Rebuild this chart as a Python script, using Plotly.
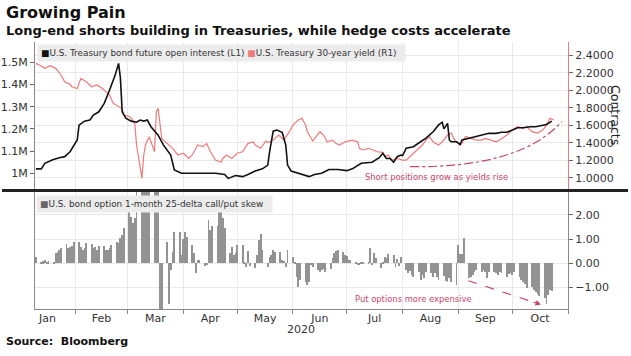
import pandas as pd
import plotly.graph_objects as go

# ---------------- data ----------------
oi_dates = ["2020-01-10","2020-01-13","2020-01-15","2020-01-19","2020-01-23","2020-01-26","2020-01-29","2020-01-31",
            "2020-02-02","2020-02-03","2020-02-06","2020-02-09","2020-02-11","2020-02-14","2020-02-17","2020-02-20",
            "2020-02-23","2020-02-25","2020-02-26","2020-02-27","2020-02-29","2020-03-03","2020-03-06","2020-03-08",
            "2020-03-10","2020-03-12","2020-03-14","2020-03-18","2020-03-21","2020-03-25","2020-03-27","2020-03-31",
            "2020-04-05","2020-04-12","2020-04-18","2020-04-19","2020-04-24","2020-04-26","2020-04-30","2020-05-04",
            "2020-05-07","2020-05-11","2020-05-15","2020-05-18","2020-05-19","2020-05-21","2020-05-23","2020-05-26",
            "2020-05-28","2020-05-29","2020-05-31","2020-06-04","2020-06-08","2020-06-10","2020-06-13","2020-06-17",
            "2020-06-21","2020-06-26","2020-07-01","2020-07-04","2020-07-09","2020-07-15","2020-07-19","2020-07-21",
            "2020-07-23","2020-07-25","2020-07-27","2020-07-29","2020-07-31","2020-08-01","2020-08-03","2020-08-07",
            "2020-08-11","2020-08-14","2020-08-18","2020-08-21","2020-08-23","2020-08-24","2020-08-26","2020-08-27",
            "2020-08-28","2020-08-31","2020-09-02","2020-09-03","2020-09-07","2020-09-11","2020-09-14","2020-09-18",
            "2020-09-22","2020-09-25","2020-09-28","2020-10-01","2020-10-04","2020-10-07","2020-10-11","2020-10-14",
            "2020-10-18","2020-10-20","2020-10-23"]
oi_values = [1.02,1.02,1.045,1.06,1.07,1.075,1.097,1.127,
             1.15,1.217,1.235,1.24,1.262,1.277,1.315,1.375,
             1.44,1.495,1.43,1.277,1.248,1.235,1.23,1.24,
             1.235,1.24,1.21,1.172,1.127,1.082,1.015,1.0,
             1.0,1.0,0.997,1.0,0.995,0.977,0.99,0.985,
             0.995,1.01,1.02,1.037,1.097,1.19,1.195,1.185,
             1.127,1.037,1.01,1.0,0.99,0.985,0.995,1.0,
             1.017,1.017,1.012,1.02,1.045,1.05,1.07,1.09,
             1.067,1.067,1.05,1.075,1.082,1.08,1.113,1.12,
             1.142,1.158,1.187,1.218,1.23,1.2,1.225,1.15,
             1.142,1.142,1.13,1.15,1.158,1.165,1.17,1.18,
             1.18,1.185,1.185,1.195,1.205,1.205,1.21,1.21,
             1.215,1.22,1.235]  # millions of contracts

yld_dates = ["2020-01-10","2020-01-12","2020-01-15","2020-01-18","2020-01-21","2020-01-24","2020-01-26","2020-01-29",
             "2020-01-30","2020-02-02","2020-02-04","2020-02-07","2020-02-10","2020-02-13","2020-02-16","2020-02-18",
             "2020-02-20","2020-02-22","2020-02-25","2020-02-27","2020-02-28","2020-03-02","2020-03-03","2020-03-05",
             "2020-03-06","2020-03-09","2020-03-10","2020-03-11","2020-03-13","2020-03-16","2020-03-17","2020-03-18",
             "2020-03-20","2020-03-23","2020-03-26","2020-03-29","2020-04-01","2020-04-04","2020-04-06","2020-04-09",
             "2020-04-12","2020-04-14","2020-04-16","2020-04-19","2020-04-22","2020-04-23","2020-04-25","2020-04-28",
             "2020-05-01","2020-05-04","2020-05-07","2020-05-10","2020-05-11","2020-05-14","2020-05-17","2020-05-18",
             "2020-05-21","2020-05-24","2020-05-27","2020-05-30","2020-06-01","2020-06-04","2020-06-06","2020-06-08",
             "2020-06-09","2020-06-12","2020-06-14","2020-06-16","2020-06-18","2020-06-20","2020-06-23","2020-06-25",
             "2020-06-27","2020-06-30","2020-07-04","2020-07-07","2020-07-08","2020-07-10","2020-07-13","2020-07-16",
             "2020-07-18","2020-07-21","2020-07-22","2020-07-24","2020-07-26","2020-07-29","2020-08-01","2020-08-03",
             "2020-08-06","2020-08-09","2020-08-12","2020-08-14","2020-08-16","2020-08-18","2020-08-21","2020-08-23",
             "2020-08-26","2020-08-28","2020-08-30","2020-09-02","2020-09-03","2020-09-05","2020-09-08","2020-09-11",
             "2020-09-14","2020-09-16","2020-09-19","2020-09-22","2020-09-24","2020-09-28","2020-10-01","2020-10-04",
             "2020-10-07","2020-10-09","2020-10-12","2020-10-15","2020-10-18","2020-10-20","2020-10-22","2020-10-24"]
yld_values = [2.307,2.288,2.25,2.28,2.25,2.174,2.097,2.067,
              2.04,2.02,2.136,2.097,2.04,2.06,2.02,1.983,
              1.945,1.85,1.81,1.79,1.717,1.70,1.68,1.62,
              1.374,0.993,1.26,1.374,1.469,1.297,1.754,1.793,
              1.45,1.39,1.336,1.26,1.28,1.22,1.26,1.374,
              1.355,1.39,1.30,1.20,1.18,1.22,1.26,1.22,
              1.28,1.297,1.393,1.41,1.374,1.336,1.42,1.40,
              1.43,1.488,1.43,1.526,1.602,1.659,1.68,1.602,
              1.526,1.42,1.47,1.526,1.488,1.41,1.43,1.39,
              1.374,1.41,1.43,1.41,1.336,1.317,1.336,1.317,
              1.297,1.29,1.24,1.26,1.20,1.22,1.20,1.20,
              1.26,1.317,1.374,1.43,1.469,1.41,1.374,1.41,
              1.488,1.51,1.43,1.374,1.39,1.47,1.45,1.43,
              1.43,1.45,1.43,1.41,1.43,1.488,1.545,1.583,
              1.564,1.583,1.526,1.51,1.545,1.60,1.68,1.66]

skew_jan = [0.27,0.05,0.08,0.12,0.07,0.08,0.07,0.42,0.45,0.55,0.62,0.78,0.62,0.66,0.73,0.88]
skew_feb = [0.9,0.69,0.55,0.62,0.83,0.78,0.62,0.69,0.55,0.73,0.73,0.55,0.55,0.62,0.76,0.9,0.83,1.03,1.17,1.45]
skew_mar = [2.2,1.93,1.65,1.86,3.3,3.5,3.4,3.6,3.5,3.4,3.5,3.3,3.2,-2.5,-2.5,0.9,-1.7,-0.28,0.48,1.28,1.28,0.34]
skew_apr = [1.0,1.28,1.1,0.76,0.41,-0.41,0.14,0.14,-0.1,-0.07,1.79,1.38,1.55,1.55,2.3,2.45,1.86,1.45,0.41,0.69,0.34,0.41]
skew_may = [0.76,0.76,0.02,-0.14,0.51,-0.1,-0.2,0.34,0.96,1.2,0.55,-0.14,0.28,0.34,0.55,0.45,0.45,0.14,0.1,-0.14,0.55]
skew_jun = [0.27,0.07,-0.55,-0.97,-0.69,-0.79,-0.9,-0.76,-0.07,-0.14,-0.28,-0.37,-0.28,-0.23,-0.34,-0.23,0.23,0.41,0.51,0.55,0.45,0.34]
skew_jul = [0.31,0.14,0.14,0.07,-0.04,-0.07,0.07,0.02,0.07,0.62,-0.07,0.41,0.23,-0.2,0.07,0.28,0.23,0.37,0.34,-0.14,0.18,-0.1,0.28]
skew_aug = [-0.28,-0.41,-0.32,-0.48,-0.55,-0.37,-0.69,-0.48,-0.6,-0.34,-0.41,-0.55,-0.41,-0.55,-0.69,-0.51,-0.73,-0.76,-0.62,-0.79,-0.9]
skew_sep = [0.76,0.37,0.37,1.06,-0.59,-0.55,-0.48,-0.37,-0.28,-0.37,-0.28,-0.34,-0.62,-0.37,-0.34,-0.41,-0.48,-0.37,-0.41,-0.55,-0.45,-0.41]
skew_oct = [-0.48,-0.37,-0.55,-0.69,-0.79,-0.87,-1.03,-0.97,-1.1,-1.17,-1.28,-1.34,-1.45,-1.7,-1.31,-1.1,-1.14]
skew_months = [("2020-01-10", "2020-01-31", skew_jan), ("2020-02-01", "2020-02-29", skew_feb),
               ("2020-03-01", "2020-03-31", skew_mar), ("2020-04-01", "2020-04-30", skew_apr),
               ("2020-05-01", "2020-05-31", skew_may), ("2020-06-01", "2020-06-30", skew_jun),
               ("2020-07-01", "2020-07-31", skew_jul), ("2020-08-01", "2020-08-31", skew_aug),
               ("2020-09-01", "2020-09-30", skew_sep), ("2020-10-01", "2020-10-23", skew_oct)]

oi_ticks = [1.0, 1.1, 1.2, 1.3, 1.4, 1.5]
oi_ticktext = ["1M", "1.1M", "1.2M", "1.3M", "1.4M", "1.5M"]
yld_ticks = [1.0, 1.2, 1.4, 1.6, 1.8, 2.0, 2.2, 2.4]
skew_ticks = [-1, 0, 1, 2]

# ---------------- build ----------------
skew_x, skew_y = [], []
for start, end, vals in skew_months:
    days = pd.bdate_range(start, end)
    for d, v in zip(days, vals):
        skew_x.append(d)
        skew_y.append(v)

oi_abs = [v * 1e6 for v in oi_values]

RED = "#f07a7a"
ANN = "#c8466a"
FONT = "DejaVu Sans"

fig = go.Figure()
fig.add_trace(go.Scatter(x=yld_dates, y=yld_values, mode="lines", line=dict(color=RED, width=1.2),
                         xaxis="x2", yaxis="y", name="U.S. Treasury 30-year yield (R1)"))
fig.add_trace(go.Scatter(x=oi_dates, y=oi_abs, mode="lines", line=dict(color="#111111", width=1.6),
                         xaxis="x2", yaxis="y2", name="U.S. Treasury bond future open interest (L1)"))
fig.add_trace(go.Bar(x=skew_x, y=skew_y, marker=dict(color="#939393", line=dict(width=0)),
                     width=0.48 * 86400000, xaxis="x", yaxis="y3",
                     name="U.S. bond option 1-month 25-delta call/put skew"))

L, R, T, B = 35, 63, 42, 47
W, H = 631, 356
pw, ph = W - L - R, H - T - B


def px(xp):
    return (xp - L) / pw


def py(yp):
    return (H - B - yp) / ph


xrange = ["2020-01-09 12:00", "2020-11-01"]
grid = "#e9e9e9"
tickfont = dict(family=FONT, size=11, color="#333333")

fig.update_layout(
    width=W, height=H, margin=dict(l=L, r=R, t=T, b=B, autoexpand=False),
    paper_bgcolor="white", plot_bgcolor="white", showlegend=False,
    font=dict(family=FONT, color="#333333"),
    bargap=0,
    xaxis=dict(domain=[0, 1], anchor="y3", type="date", range=xrange, dtick="M1", tick0="2020-01-01",
               ticklabelmode="period", tickformat="%b", ticks="outside", ticklen=4, tickcolor="#888888",
               showline=True, linecolor="#888888", linewidth=1, showgrid=True, gridcolor=grid,
               tickfont=tickfont, zeroline=False, automargin=False, ticklabelstandoff=-5),
    xaxis2=dict(domain=[0, 1], anchor="y", type="date", range=xrange, matches="x", dtick="M1",
                tick0="2020-01-01", showticklabels=False, ticks="", showgrid=True, gridcolor=grid,
                showline=False, zeroline=False, automargin=False),
    yaxis=dict(domain=[py(189), 1], anchor="x2", side="right", range=[0.871, 2.551],
               tickvals=yld_ticks, tickformat=".4f", ticks="outside", ticklen=4, tickcolor="#666666",
               showline=True, linecolor=RED, linewidth=1, showgrid=True, gridcolor=grid,
               tickfont=tickfont, zeroline=False, automargin=False),
    yaxis2=dict(overlaying="y", anchor="x2", side="left", range=[0.9293e6, 1.5914e6],
                tickvals=[v * 1e6 for v in oi_ticks], ticktext=oi_ticktext, ticks="outside", ticklen=4,
                tickcolor="#666666", showline=True, linecolor="#888888", linewidth=1, showgrid=False,
                tickfont=tickfont, zeroline=False, automargin=False),
    yaxis3=dict(domain=[0, py(192)], anchor="x", side="right", range=[-1.888, 2.946],
                tickvals=skew_ticks, tickformat=".2f", ticks="outside", ticklen=4, tickcolor="#666666",
                showline=True, linecolor="#888888", linewidth=1, mirror=True, showgrid=True,
                gridcolor=grid, tickfont=tickfont, zeroline=False, automargin=False),
)

shapes = [
    dict(type="line", xref="paper", yref="paper", x0=px(2), x1=px(628), y0=py(190.5), y1=py(190.5),
         line=dict(color="#222222", width=3)),
    dict(type="path", xref="paper", yref="paper",
         path="M %.4f %.4f Q %.4f %.4f %.4f %.4f" % (px(410), py(166.7), px(520), py(168),
                                                    px(561.7), py(121.7)),
         line=dict(color=ANN, width=1.2, dash="dashdot")),
    dict(type="line", xref="paper", yref="paper", x0=px(468.3), y0=py(280.7), x1=px(538), y1=py(303.6),
         line=dict(color=ANN, width=1.1, dash="dash")),
]

annotations = [
    dict(text="<b>Growing Pain</b>", x=px(4), y=py(13), xref="paper", yref="paper", xanchor="left",
         yanchor="middle", showarrow=False, font=dict(family=FONT, size=16, color="#111111")),
    dict(text="<b>Long-end shorts building in Treasuries, while hedge costs accelerate</b>", x=px(4),
         y=py(31), xref="paper", yref="paper", xanchor="left", yanchor="middle", showarrow=False,
         font=dict(family=FONT, size=13, color="#111111")),
    dict(text="<b>Source:  Bloomberg</b>", x=px(4), y=py(341), xref="paper", yref="paper",
         xanchor="left", yanchor="middle", showarrow=False, font=dict(family=FONT, size=11, color="#111111")),
    dict(text="<span style='color:#111111'>■</span>U.S. Treasury bond future open interest (L1) "
              "<span style='color:%s'>■</span>U.S. Treasury 30-year yield (R1)  " % RED,
         x=px(37), y=py(44), xref="paper", yref="paper", xanchor="left", yanchor="top", showarrow=False,
         bgcolor="#ececec", borderpad=3, font=dict(family=FONT, size=8.9, color="#333333")),
    dict(text="<span style='color:#666666'>■</span>U.S. bond option 1-month 25-delta call/put skew  ",
         x=px(36), y=py(195), xref="paper", yref="paper", xanchor="left", yanchor="top", showarrow=False,
         bgcolor="#ececec", borderpad=3, font=dict(family=FONT, size=8.9, color="#333333")),
    dict(text="Contracts", x=px(616), y=py(115), xref="paper", yref="paper", xanchor="center",
         yanchor="middle", textangle=90, showarrow=False, font=dict(family=FONT, size=12.5, color="#222222")),
    dict(text="2020", x=px(301), y=py(329), xref="paper", yref="paper", xanchor="center", yanchor="middle",
         showarrow=False, font=dict(family=FONT, size=11, color="#333333")),
    dict(text="Short positions grow as yields rise", x=px(436), y=py(177), xref="paper", yref="paper",
         xanchor="center", yanchor="middle", showarrow=False, font=dict(family=FONT, size=8.4, color=ANN)),
    dict(text="Put options more expensive", x=px(413.5), y=py(299), xref="paper", yref="paper",
         xanchor="center", yanchor="middle", showarrow=False, font=dict(family=FONT, size=8.4, color=ANN)),
    dict(text="", x=px(541), y=py(304.6), xref="paper", yref="paper", showarrow=True, arrowhead=2,
         arrowsize=1, arrowwidth=1.1, arrowcolor=ANN, ax=-9, ay=-3, axref="pixel", ayref="pixel"),
]
fig.update_layout(shapes=shapes, annotations=annotations)

fig.write_html("out.html", config={"displayModeBar": False},
               post_script="document.body.style.margin='0';document.body.style.overflow='hidden';")
